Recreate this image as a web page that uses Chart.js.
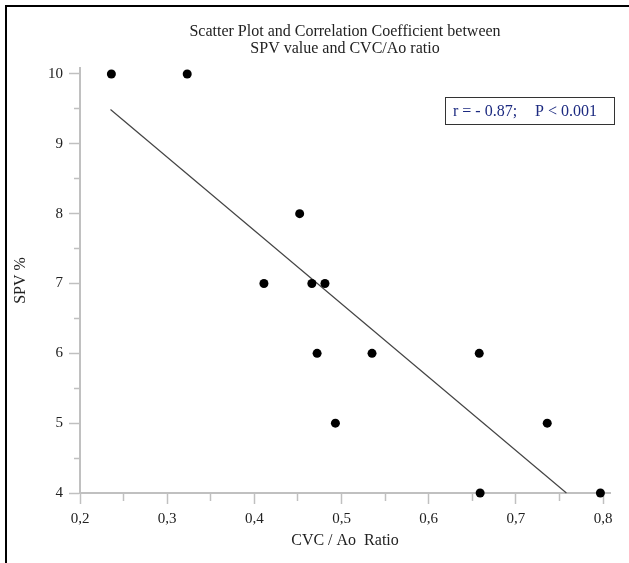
<!DOCTYPE html>
<html>
<head>
    <title>Scatter Plot SPV vs CVC/Ao</title>
    <script src="https://cdn.jsdelivr.net/npm/chart.js"></script>
    <style>
        body { margin: 0; background: #fff; }
    </style>
</head>
<body>
    <canvas id="scatterChart" width="629" height="563"></canvas>

    <script>
        // data
        const cvcAoRatio = [0.236, 0.323, 0.411, 0.452, 0.466, 0.472, 0.481, 0.493, 0.535, 0.658, 0.659, 0.736, 0.797];
        const spvPercent = [10, 10, 7, 8, 7, 6, 7, 5, 6, 6, 4, 5, 4];

        // regression line end points
        const fitX = [0.235, 0.758];
        const fitY = [9.49, 4.0];

        // axis ticks
        const xMajorTicks = [0.2, 0.3, 0.4, 0.5, 0.6, 0.7, 0.8];
        const xMinorTicks = [0.25, 0.35, 0.45, 0.55, 0.65, 0.75];
        const yMajorTicks = [4, 5, 6, 7, 8, 9, 10];
        const yMinorTicks = [4.5, 5.5, 6.5, 7.5, 8.5, 9.5];

        const chartTitle = ['Scatter Plot and Correlation Coefficient between', 'SPV value and CVC/Ao ratio'];
        const statText = ['r = - 0.87;', 'P < 0.001'];

        const serif = "'Liberation Serif', 'Times New Roman', serif";
        const axisGrey = '#c0c0c0';
        const textColor = '#222';

        const points = cvcAoRatio.map((x, i) => ({ x: x, y: spvPercent[i] }));
        const fitPoints = fitX.map((x, i) => ({ x: x, y: fitY[i] }));

        // frame + correlation box
        const extras = {
            id: 'extras',
            beforeDraw(chart) {
                const ctx = chart.ctx;
                ctx.save();
                ctx.fillStyle = '#fff';
                ctx.fillRect(0, 0, chart.width, chart.height);
                ctx.fillStyle = '#000';
                ctx.fillRect(5, 5, chart.width - 5, 2);
                ctx.fillRect(5, 5, 2, chart.height - 5);
                ctx.restore();
            },
            afterDraw(chart) {
                const ctx = chart.ctx;
                ctx.save();
                ctx.strokeStyle = '#333';
                ctx.lineWidth = 1;
                ctx.strokeRect(445.5, 97.5, 169, 27);
                ctx.fillStyle = '#1c2a80';
                ctx.font = '16px ' + serif;
                ctx.textBaseline = 'middle';
                ctx.fillText(statText[0], 453, 111.5);
                ctx.fillText(statText[1], 535, 111.5);
                ctx.restore();
            }
        };

        const ctx = document.getElementById('scatterChart').getContext('2d');
        const chart = new Chart(ctx, {
            type: 'scatter',
            data: {
                datasets: [{
                    data: points,
                    backgroundColor: '#000',
                    borderColor: '#000',
                    pointRadius: 4.5,
                    pointHoverRadius: 4.5,
                    borderWidth: 0,
                    clip: false
                }, {
                    data: fitPoints,
                    showLine: true,
                    borderColor: '#444',
                    borderWidth: 1.2,
                    pointRadius: 0,
                    pointHoverRadius: 0,
                    clip: false
                }]
            },
            options: {
                responsive: false,
                animation: false,
                devicePixelRatio: 1,
                layout: { padding: { left: 6, right: 19, top: 0, bottom: 0 } },
                plugins: {
                    legend: { display: false },
                    tooltip: { enabled: false },
                    title: {
                        display: true,
                        fullSize: false,
                        text: chartTitle,
                        color: textColor,
                        font: { family: serif, size: 16, weight: 'normal', lineHeight: 1.08 },
                        padding: { top: 22.8, bottom: 10.6 }
                    }
                },
                scales: {
                    x: {
                        type: 'linear',
                        position: 'bottom',
                        min: 0.2,
                        max: 0.808,
                        afterBuildTicks: s => {
                            s.ticks = xMajorTicks.concat(xMinorTicks).sort((a, b) => a - b).map(v => ({ value: v }));
                        },
                        afterFit: s => { s.height = 70; },
                        ticks: {
                            autoSkip: false,
                            maxRotation: 0,
                            padding: 6,
                            color: textColor,
                            font: { family: serif, size: 15 },
                            callback: v => xMajorTicks.includes(v) ? v.toFixed(1).replace('.', ',') : ''
                        },
                        grid: {
                            drawOnChartArea: false,
                            drawTicks: true,
                            tickLength: 11,
                            tickColor: axisGrey,
                            tickWidth: 1.5,
                            tickBorderDash: c => (c.tick && xMinorTicks.includes(c.tick.value)) ? [7, 30] : []
                        },
                        border: { color: axisGrey, width: 2 },
                        title: {
                            display: true,
                            text: 'CVC / Ao  Ratio',
                            color: textColor,
                            font: { family: serif, size: 16 },
                            padding: { top: 0, bottom: 12.4 }
                        }
                    },
                    y: {
                        type: 'linear',
                        position: 'left',
                        min: 4,
                        max: 10.086,
                        afterBuildTicks: s => {
                            s.ticks = yMajorTicks.concat(yMinorTicks).sort((a, b) => a - b).map(v => ({ value: v }));
                        },
                        afterFit: s => { s.width = 74; },
                        ticks: {
                            autoSkip: false,
                            padding: 6,
                            color: textColor,
                            font: { family: serif, size: 15 },
                            callback: v => yMajorTicks.includes(v) ? String(v) : ''
                        },
                        grid: {
                            drawOnChartArea: false,
                            drawTicks: true,
                            tickLength: 11,
                            tickColor: axisGrey,
                            tickWidth: 1.5,
                            tickBorderDash: c => (c.tick && yMinorTicks.includes(c.tick.value)) ? [0, 5, 6, 30] : []
                        },
                        border: { color: axisGrey, width: 2 },
                        title: {
                            display: true,
                            text: 'SPV %',
                            color: textColor,
                            font: { family: serif, size: 16 },
                            padding: { top: 5.4, bottom: 0 }
                        }
                    }
                }
            },
            plugins: [extras]
        });
    </script>
</body>
</html>
